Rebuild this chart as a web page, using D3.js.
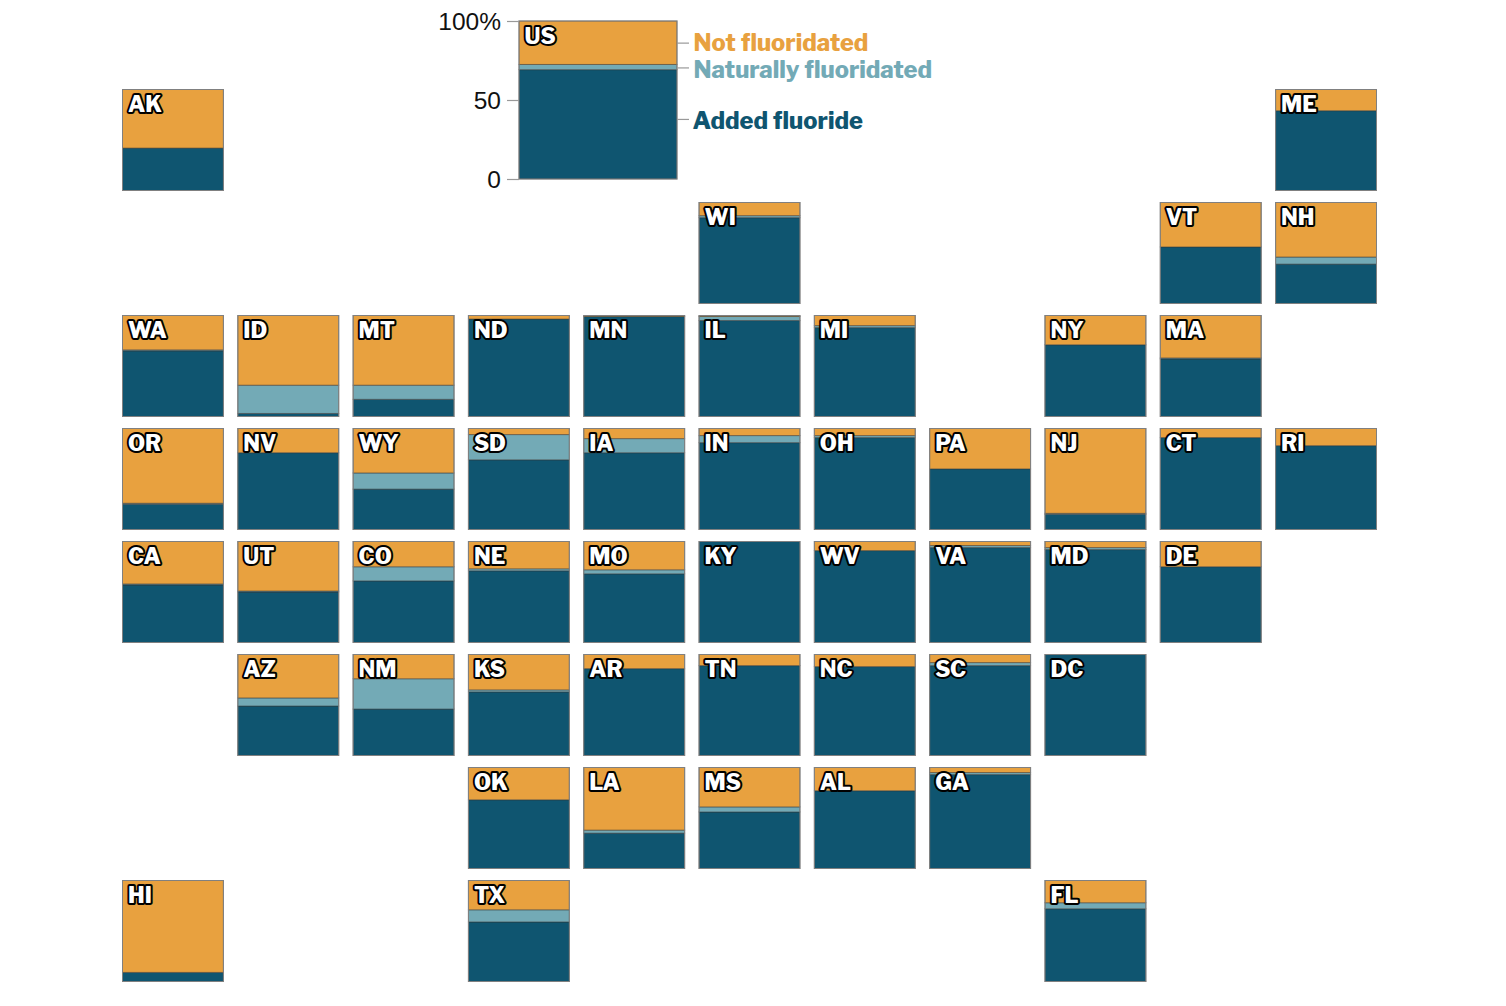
<!DOCTYPE html>
<html><head><meta charset="utf-8">
<script src="https://cdn.jsdelivr.net/npm/d3@7"></script>
<style>html,body{margin:0;padding:0;background:#fff}svg{display:block}</style>
</head><body><svg id="c" width="1506" height="1006"></svg>
<script>
const states=["AK","ME","WI","VT","NH","WA","ID","MT","ND","MN","IL","MI","NY","MA","OR","NV","WY","SD","IA","IN","OH","PA","NJ","CT","RI","CA","UT","CO","NE","MO","KY","WV","VA","MD","DE","AZ","NM","KS","AR","TN","NC","SC","DC","OK","LA","MS","AL","GA","HI","TX","FL"];
const gridCol=[0,10,5,9,10,0,1,2,3,4,5,6,8,9,0,1,2,3,4,5,6,7,8,9,10,0,1,2,3,4,5,6,7,8,9,1,2,3,4,5,6,7,8,3,4,5,6,7,0,3,8];
const gridRow=[0,0,1,1,1,2,2,2,2,2,2,2,2,2,3,3,3,3,3,3,3,3,3,3,3,4,4,4,4,4,4,4,4,4,4,5,5,5,5,5,5,5,5,6,6,6,6,6,7,7,7];
const added=[42,79,85,56,39,65,3,17,96.5,99,95,88,71,57,25,76,40,69,76,86,91,60,15,91,83,57,50,61,71,68,100,91,94,92,75,49,46,63,86,89,88,89,100,68,35,56,77,93,9,59,72];
const natural=[0,0,2,0,7,1,28,14,0,0,4,2,0,1,1,0,16,25,14,7,2,0,1,0,0,1,1,14,2,4,0,0,2,2,0,8,30,2,0,0,0,3,0,0,3,5,0,2,0,12,6];
const not=[58,21,13,44,54,34,69,69,3.5,1,1,10,29,42,74,24,44,6,10,7,7,40,84,9,17,42,49,25,27,28,0,9,4,6,25,43,24,35,14,11,12,8,0,32,62,39,23,5,91,29,22];
const usValues={added:69.2,natural:3.3,not:27.5};
const seriesKeys=["added","natural","not"];
const seriesColors=["#0f5570","#73aab6","#e8a13f"];
const legendLabels=["Added fluoride","Naturally fluoridated","Not fluoridated"];
const legendAt=[37.7,70.3,86];
const legendShift=[10,10,7.5];
const legendX=[692.5,693.5,693.5];
const axisTicks=[0,50,100];

const svg=d3.select("#c");
const font="'Libre Franklin','Liberation Sans',Arial,sans-serif";
const x=d3.scaleBand().domain(d3.range(11)).range([122.5,1376.5]).paddingInner(0.1248).paddingOuter(0);
const y=d3.scaleBand().domain(d3.range(8)).range([89.5,981.5]).paddingInner(0.1062).paddingOuter(0);
const tileH=y.bandwidth();
const yTile=d3.scaleLinear().domain([0,100]).range([tileH,0]);
const rows=states.map((s,i)=>({state:s,col:gridCol[i],row:gridRow[i],added:added[i],natural:natural[i],not:not[i]}));
const stack=d3.stack().keys(seriesKeys);

function drawTile(g,d,w,yS){
  const st=stack([d]);
  g.selectAll("rect.seg").data(st).join("rect").attr("class","seg")
    .attr("x",0).attr("width",w)
    .attr("y",s=>yS(s[0][1])).attr("height",s=>yS(s[0][0])-yS(s[0][1]))
    .attr("fill",s=>seriesColors[s.index])
    .attr("stroke","#333").attr("stroke-opacity",0.5).attr("stroke-width",1);
  g.append("rect").attr("x",0).attr("y",yS(100)).attr("width",w).attr("height",yS(0)-yS(100))
    .attr("fill","none").attr("stroke","#808080").attr("stroke-width",1);
  g.append("text").text(d.state).attr("x",5.5).attr("y",yS(100)+22.2)
    .attr("font-family",font).attr("font-weight",800).attr("font-size",22)
    .attr("fill","#fff").attr("stroke","#000").attr("stroke-width",4).attr("stroke-linejoin","round")
    .attr("paint-order","stroke");
}
svg.selectAll("g.tile").data(rows).join("g").attr("class","tile")
  .attr("transform",d=>`translate(${x(d.col)},${y(d.row)})`)
  .each(function(d){drawTile(d3.select(this),d,x.bandwidth(),yTile);});

const usX=519,usW=158;
const yUS=d3.scaleLinear().domain([0,100]).range([179,21]);
const usRow={state:"US",...usValues};
const usG=svg.append("g").attr("transform",`translate(${usX},0)`);
drawTile(usG,usRow,usW,yUS);
usG.select("text").attr("y",44);
const axis=d3.axisLeft(yUS).tickValues(axisTicks).tickSize(12).tickPadding(6).tickFormat(d=>d===100?"100%":d);
const ax=svg.append("g").attr("transform",`translate(${usX},0)`).call(axis);
ax.select(".domain").remove();
ax.selectAll("line").attr("stroke","#999").attr("stroke-width",1.2);
ax.selectAll("text").attr("font-family","'Liberation Sans',Arial,sans-serif").attr("font-size",24.5).attr("fill","#111").attr("dy","0.34em");

svg.selectAll("g.leg").data(seriesKeys).join("g").attr("class","leg").each(function(k,i){
  const g=d3.select(this),yy=yUS(legendAt[i]);
  g.append("line").attr("x1",usX+usW).attr("x2",usX+usW+12).attr("y1",yy).attr("y2",yy).attr("stroke","#999").attr("stroke-width",1.2);
  g.append("text").text(legendLabels[i]).attr("x",legendX[i]).attr("y",yy+legendShift[i])
   .attr("font-family",font).attr("font-weight",800).attr("font-size",23.7).attr("fill",seriesColors[i]);
});
</script></body></html>
